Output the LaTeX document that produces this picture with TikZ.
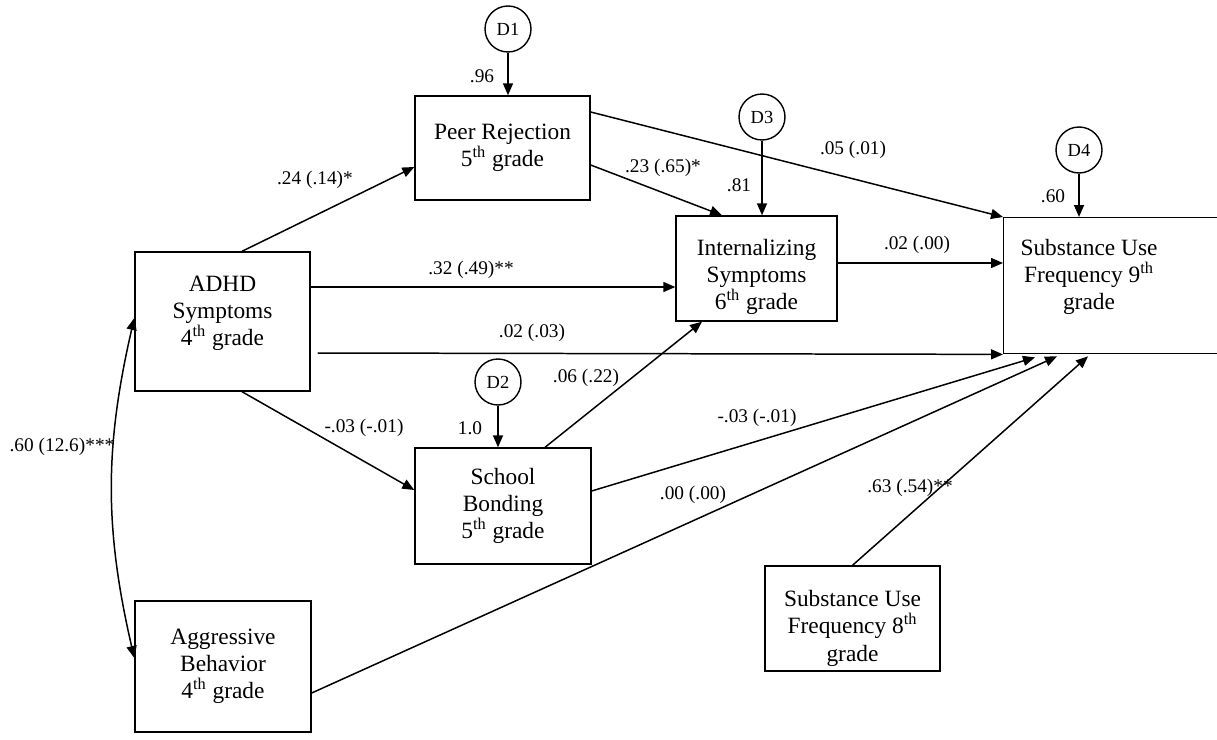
\documentclass[tikz,border=0pt]{standalone}
\usepackage{fontspec}
\setmainfont{Liberation Serif}
\usetikzlibrary{arrows.meta,calc}

\begin{document}
\begin{tikzpicture}[x=0.02cm, y=-0.02cm, >={Triangle[length=2.4mm, width=2mm]},
	box/.style={draw, line width=0.8pt, inner sep=0pt, align=center, font=\fontsize{13.3}{15.5}\selectfont},
	dist/.style={draw, circle, line width=0.8pt, minimum size=0.92cm, inner sep=0pt, font=\fontsize{10.5}{12}\selectfont},
	coef/.style={font=\fontsize{11}{13}\selectfont, inner sep=1pt},
	eff/.style={->, line width=0.85pt}]
	\useasboundingbox (0,0) rectangle (1217,740);
	% observed variables
	\node[box, minimum width=3.5cm, minimum height=2.78cm, text depth=12.3pt] (adhd) at (222.5,321.5) {ADHD\\Symptoms\\4\textsuperscript{th} grade};
	\node[box, minimum width=3.52cm, minimum height=2.62cm] (aggr) at (223,666.5) {Aggressive\\Behavior\\4\textsuperscript{th} grade};
	\node[box, minimum width=3.5cm, minimum height=2.08cm] (peer) at (502.5,148) {Peer Rejection\\5\textsuperscript{th} grade};
	\node[box, minimum width=3.52cm, minimum height=2.32cm] (school) at (503,506) {School\\Bonding\\5\textsuperscript{th} grade};
	\node[box, minimum width=3.22cm, minimum height=2.1cm, text height=50pt] (intern) at (756.5,268.5) {Internalizing\\Symptoms\\6\textsuperscript{th} grade};
	\node[box, minimum width=3.5cm, minimum height=2.1cm, text height=51.5pt] (sub8) at (852.5,618.5) {Substance Use\\Frequency 8\textsuperscript{th}\\grade};
	\node[box, anchor=north west, minimum width=4.6cm, minimum height=2.72cm] (sub9) at (1003,217) {};
	\node[box, draw=none] (sub9txt) at (1089,277) {Substance Use\\Frequency 9\textsuperscript{th}\\grade};
	% disturbances
	\node[dist] (d1) at (508,29) {D1};
	\node[dist] (d2) at (498,382) {D2};
	\node[dist] (d3) at (762,117) {D3};
	\node[dist] (d4) at (1079,150) {D4};
	\draw[eff] (d1) -- (d1 |- peer.north);
	\draw[eff] (d2) -- (d2 |- school.north);
	\draw[eff] (d3) -- (d3 |- intern.north);
	\draw[eff] (d4) -- (d4 |- sub9.north);
	\node[coef] (r1) at (482,76) {.96};
	\node[coef] (r2) at (470,428) {1.0};
	\node[coef] (r3) at (739,185) {.81};
	\node[coef] (r4) at (1053,196) {.60};
	% paths
	\draw[eff] ($(adhd.north)+(19.5,0)$) -- ($(peer.west)+(0,19)$);
	\draw[eff] ($(adhd.east)+(0,-34.5)$) coordinate (a2) -- (a2 -| intern.west);
	\draw[eff] ($(adhd.east)+(7,31.5)$) -- (sub9.south west);
	\draw[eff] ($(adhd.south)+(19.5,0)$) -- ($(school.west)+(0,-16)$);
	\draw[eff] ($(peer.east)+(0,-36)$) -- (sub9.north west);
	\draw[eff] ($(peer.east)+(0,17)$) -- ($(intern.north)+(-34.5,0)$);
	\draw[eff] ($(intern.east)+(0,-5.5)$) coordinate (i2) -- (i2 -| sub9.west);
	\draw[eff] ($(school.north)+(42,0)$) -- ($(intern.south)+(-54.5,0)$);
	\draw[eff] ($(school.east)+(0,-15)$) -- ($(sub9.south west)+(32,3)$);
	\draw[eff] ($(aggr.east)+(0,26.5)$) -- ($(sub9.south west)+(54,2)$);
	\draw[eff] (sub8.north) -- ($(sub9.south west)+(85,2)$);
	\draw[<->, line width=0.85pt] ($(adhd.west)+(0,-3.5)$) to[bend right=13] ($(aggr.west)+(0,-8.5)$);
	% coefficients
	\node[coef] (c1) at (315,180) {.24 (.14)*};
	\node[coef] (c2) at (471,270) {.32 (.49)**};
	\node[coef] (c3) at (532,333) {.02 (.03)};
	\node[coef] (c4) at (364,428) {-.03 (-.01)};
	\node[coef] (c5) at (853,150) {.05 (.01)};
	\node[coef] (c6) at (663,168) {.23 (.65)*};
	\node[coef] (c7) at (917,245) {.02 (.00)};
	\node[coef] (c8) at (586,378) {.06 (.22)};
	\node[coef] (c9) at (757,418) {-.03 (-.01)};
	\node[coef] (c10) at (693,495) {.00 (.00)};
	\node[coef] (c11) at (910,488) {.63 (.54)**};
	\node[coef] (c12) at (62,447) {.60 (12.6)***};
\end{tikzpicture}
\end{document}
